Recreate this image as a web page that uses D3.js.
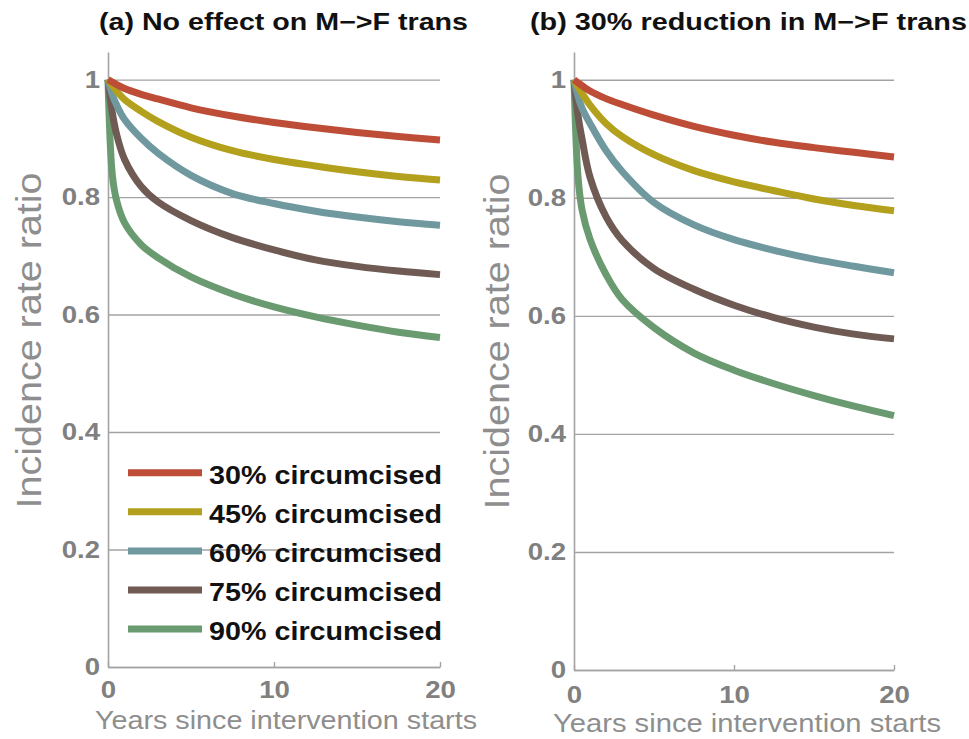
<!DOCTYPE html>
<html>
<head>
<meta charset="utf-8">
<script src="https://cdn.jsdelivr.net/npm/d3@7"></script>
<style>
  html, body { margin: 0; padding: 0; background: #ffffff; }
  svg { display: block; }
</style>
</head>
<body>
<svg id="chart" width="969" height="739"></svg>
<script>
// ---------------- DATA ----------------
const years = [0, 0.25, 0.5, 1, 2, 3, 5, 7.5, 10, 12.5, 15, 17.5, 20];
const seriesLabels = ["30% circumcised", "45% circumcised", "60% circumcised", "75% circumcised", "90% circumcised"];
const panelTitles = ["(a) No effect on M\u2212>F trans", "(b) 30% reduction in M\u2212>F trans"];
const yTickValues = [0, 0.2, 0.4, 0.6, 0.8, 1];
const xTickValues = [0, 10, 20];
const yAxisTitle = "Incidence rate ratio";
const xAxisTitle = "Years since intervention starts";

// Panel (a): no effect on male-to-female transmission
const a30 = [1, 0.996, 0.992, 0.985, 0.975, 0.967, 0.952, 0.938, 0.927, 0.918, 0.910, 0.903, 0.897];
const a45 = [1, 0.990, 0.981, 0.966, 0.946, 0.929, 0.902, 0.879, 0.864, 0.853, 0.843, 0.835, 0.829];
const a60 = [1, 0.975, 0.958, 0.932, 0.900, 0.875, 0.837, 0.806, 0.789, 0.776, 0.766, 0.758, 0.752];
const a75 = [1, 0.945, 0.909, 0.864, 0.818, 0.792, 0.760, 0.731, 0.710, 0.693, 0.682, 0.674, 0.668];
const a90 = [1, 0.841, 0.796, 0.756, 0.719, 0.697, 0.664, 0.635, 0.613, 0.596, 0.582, 0.570, 0.561];

// Panel (b): 30% reduction in male-to-female transmission
const b30 = [1, 0.995, 0.990, 0.981, 0.968, 0.958, 0.940, 0.921, 0.906, 0.894, 0.885, 0.877, 0.869];
const b45 = [1, 0.988, 0.977, 0.957, 0.926, 0.904, 0.873, 0.846, 0.827, 0.812, 0.798, 0.787, 0.778];
const b60 = [1, 0.972, 0.952, 0.926, 0.880, 0.845, 0.792, 0.754, 0.729, 0.711, 0.696, 0.684, 0.673];
const b75 = [1, 0.940, 0.900, 0.835, 0.768, 0.728, 0.680, 0.645, 0.618, 0.597, 0.581, 0.569, 0.561];
const b90 = [1, 0.836, 0.780, 0.730, 0.670, 0.628, 0.580, 0.537, 0.508, 0.485, 0.465, 0.447, 0.431];

// ---------------- STYLE ----------------
const colors = ["#bd4d37", "#b3a01c", "#6f989f", "#6f5a54", "#6a9a70"];
const axisGray = "#a3a3a3";
const tickGray = "#808080";
const labelGray = "#8e8e8e";
const FONT = "'Liberation Sans', Arial, sans-serif";
const SX = 1.15; // horizontal stretch of the source image

const svg = d3.select("#chart");

const panels = [
  { series: [a30, a45, a60, a75, a90], title: panelTitles[0],
    x0: 108, x1: 440, yBottom: 667, yTop: 52,
    titleX: 99, titleLen: 369, tickBase: 31,
    yLabX: 41, yLabY: 340.5, xLabX: 286, xLabY: 729, xLabLen: 382, legend: true },
  { series: [b30, b45, b60, b75, b90], title: panelTitles[1],
    x0: 574, x1: 894, yBottom: 670, yTop: 52,
    titleX: 530, titleLen: 437, tickBase: 33,
    yLabX: 509, yLabY: 341.5, xLabX: 747, xLabY: 732, xLabLen: 388, legend: false }
];

panels.forEach(p => {
  const x = d3.scaleLinear().domain([0, 20]).range([p.x0, p.x1]);
  const y = d3.scaleLinear().domain([0, 1.047]).range([p.yBottom, p.yTop]);
  const g = svg.append("g");

  // y axis with gridlines
  const yAxis = d3.axisLeft(y)
    .tickValues(yTickValues)
    .tickFormat(d => String(d))
    .tickSizeInner(-(p.x1 - p.x0))
    .tickSizeOuter(0)
    .tickPadding(8);
  const gy = g.append("g").attr("transform", `translate(${p.x0},0)`).call(yAxis);
  gy.select(".domain").attr("stroke", axisGray).attr("stroke-width", 1.6);
  gy.selectAll(".tick line").attr("stroke", axisGray).attr("stroke-width", 1.4);
  gy.selectAll(".tick text")
    .attr("fill", tickGray)
    .attr("font-family", FONT)
    .attr("font-weight", "bold")
    .attr("font-size", 24)
    .attr("x", -8 / SX)
    .attr("transform", `scale(${SX},1)`);

  // x axis
  const xAxis = d3.axisBottom(x)
    .tickValues(xTickValues)
    .tickFormat(d => String(d))
    .tickSizeInner(-5)
    .tickSizeOuter(0);
  const gx = g.append("g").attr("transform", `translate(0,${p.yBottom})`).call(xAxis);
  gx.select(".domain").attr("stroke", axisGray).attr("stroke-width", 1.6);
  gx.selectAll(".tick line").attr("stroke", axisGray).attr("stroke-width", 1.4);
  gx.selectAll(".tick text")
    .attr("fill", tickGray)
    .attr("font-family", FONT)
    .attr("font-weight", "bold")
    .attr("font-size", 24)
    .attr("y", p.tickBase)
    .attr("dy", 0)
    .attr("transform", `scale(${SX},1)`);

  // series lines
  const line = d3.line()
    .x((d, i) => x(years[i]))
    .y(d => y(d))
    .curve(d3.curveCatmullRom.alpha(0.5));
  const order = [4, 3, 2, 1, 0];
  order.forEach(k => {
    g.append("path")
      .datum(p.series[k])
      .attr("d", line)
      .attr("fill", "none")
      .attr("stroke", colors[k])
      .attr("stroke-width", 7)
      .attr("stroke-linejoin", "round")
      .attr("stroke-linecap", "butt");
  });

  // title
  g.append("text")
    .attr("x", p.titleX).attr("y", 30)
    .attr("font-family", FONT).attr("font-weight", "bold")
    .attr("font-size", 24).attr("fill", "#111")
    .attr("textLength", p.titleLen).attr("lengthAdjust", "spacingAndGlyphs")
    .text(p.title);

  // y axis title
  g.append("text")
    .attr("transform", `translate(${p.yLabX},${p.yLabY}) rotate(-90)`)
    .attr("text-anchor", "middle")
    .attr("font-family", FONT).attr("font-size", 35)
    .attr("fill", labelGray)
    .attr("textLength", 336).attr("lengthAdjust", "spacingAndGlyphs")
    .text(yAxisTitle);

  // x axis title
  g.append("text")
    .attr("x", p.xLabX).attr("y", p.xLabY)
    .attr("text-anchor", "middle")
    .attr("font-family", FONT).attr("font-size", 26)
    .attr("fill", labelGray)
    .attr("textLength", p.xLabLen).attr("lengthAdjust", "spacingAndGlyphs")
    .text(xAxisTitle);

  // legend
  if (p.legend) {
    const lg = g.append("g");
    seriesLabels.forEach((lab, i) => {
      const ly = 472.7 + i * 39.1;
      lg.append("line")
        .attr("x1", 128).attr("x2", 202)
        .attr("y1", ly).attr("y2", ly)
        .attr("stroke", colors[i]).attr("stroke-width", 7);
      lg.append("text")
        .attr("x", 209).attr("y", ly + 11)
        .attr("font-family", FONT).attr("font-weight", "bold")
        .attr("font-size", 25).attr("fill", "#111")
        .attr("textLength", 233).attr("lengthAdjust", "spacingAndGlyphs")
        .text(lab);
    });
  }
});
</script>
</body>
</html>
